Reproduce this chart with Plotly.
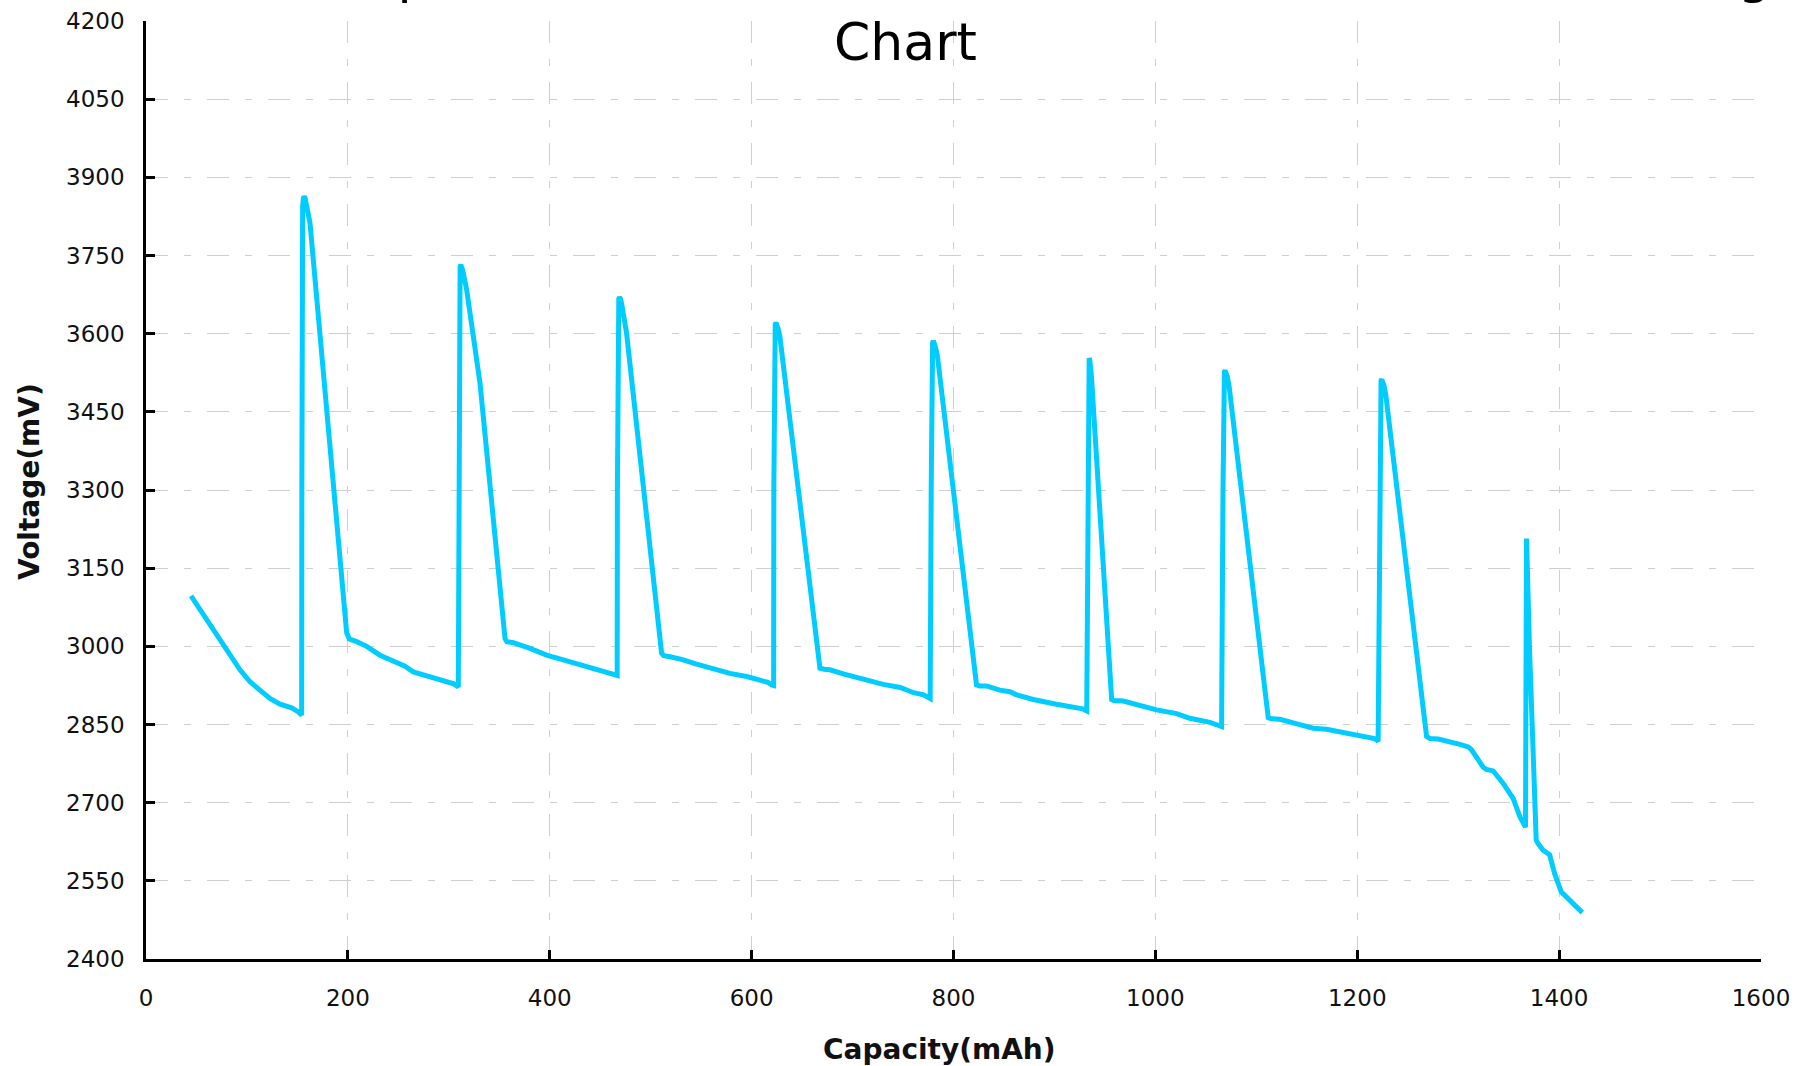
import plotly.graph_objects as go

# Capacity (mAh) and voltage (mV), one row per stretch of the curve
capacity = [
    44.6, 55.2, 63.4, 73.3, 83.2, 93.1, 103.0, 112.9, 122.8, 132.8, 144.3, 151.0, 154.2,
    154.4, 154.6, 154.8, 155.2, 155.9, 156.7, 157.6, 158.6, 160.0, 162.5, 198.8, 200.4,
    201.5, 208.7, 218.6, 231.8, 245.0, 256.6, 264.8, 281.4, 297.9, 305.0, 309.4,
    309.8, 310.0, 310.2, 310.6, 311.2, 311.9, 312.8, 313.9, 315.3, 317.7, 330.9, 350.7, 355.7,
    357.5, 363.9, 380.4, 396.9, 413.4, 429.9, 439.8, 449.1, 453.0, 459.0, 464.6, 466.8,
    467.0, 467.2, 467.4, 467.8, 468.4, 469.1, 470.0, 471.2, 473.0, 476.1, 510.8,
    513.0, 519.1, 530.6, 545.5, 562.0, 578.5, 595.0, 609.9, 616.0, 619.8, 621.8,
    622.0, 622.2, 622.4, 622.8, 623.4, 624.1, 625.0, 626.2, 628.0, 667.7,
    672.0, 677.6, 690.8, 710.6, 730.4, 747.2, 760.4, 770.3, 776.9,
    777.9, 778.1, 778.3, 778.7, 779.3, 780.0, 780.9, 782.1, 784.0, 822.8,
    826.0, 832.7, 845.9, 855.9, 862.5, 879.0, 902.0, 922.0, 928.0, 932.0,
    933.2, 933.4, 933.6, 933.9, 934.4, 935.0, 935.7, 936.6, 956.7,
    959.0, 968.2, 988.0, 1001.2, 1021.0, 1034.2, 1054.0, 1062.0, 1065.6,
    1067.0, 1067.2, 1067.4, 1067.8, 1068.4, 1069.1, 1070.0, 1071.2, 1073.0, 1111.8,
    1115.0, 1123.4, 1136.6, 1156.4, 1169.6, 1189.4, 1210.8, 1217.0, 1220.7,
    1222.2, 1222.4, 1222.6, 1223.0, 1223.6, 1224.3, 1225.2, 1226.4, 1228.2, 1268.7,
    1272.0, 1280.2, 1301.7, 1310.0, 1313.0, 1318.2, 1324.8, 1328.0, 1334.7, 1344.6, 1354.5, 1361.1, 1366.7,
    1367.3, 1367.5, 1367.7, 1370.7, 1377.3, 1379.0, 1384.0, 1390.6, 1395.5, 1402.1, 1410.4, 1423.0,
]
voltage = [
    3097, 3066, 3041, 3012, 2981, 2955, 2932, 2915, 2900, 2889, 2882, 2874, 2868,
    3300, 3760, 3820, 3845, 3860, 3863, 3860, 3852, 3838, 3812, 3026, 3018,
    3014, 3009, 3000, 2983, 2972, 2962, 2951, 2942, 2933, 2928, 2922,
    3300, 3630, 3690, 3715, 3729, 3732, 3729, 3721, 3707, 3684, 3505, 3127, 3015,
    3009, 3007, 2996, 2983, 2974, 2964, 2958, 2953, 2951, 2948, 2945, 2944,
    3300, 3575, 3630, 3655, 3667, 3670, 3667, 3658, 3641, 3601, 2987,
    2982, 2980, 2975, 2966, 2957, 2948, 2942, 2935, 2931, 2926, 2925,
    3300, 3530, 3582, 3606, 3618, 3621, 3618, 3610, 3594, 2958,
    2956, 2955, 2947, 2937, 2927, 2921, 2911, 2907, 2900,
    3300, 3500, 3552, 3573, 3583, 3586, 3583, 3575, 3558, 2926,
    2924, 2924, 2916, 2913, 2907, 2898, 2889, 2883, 2880, 2876,
    3300, 3490, 3530, 3546, 3553, 3550, 3540, 3520, 2898,
    2896, 2895, 2884, 2878, 2871, 2862, 2854, 2850, 2846,
    3300, 3450, 3500, 3519, 3527, 3529, 3526, 3518, 3500, 2863,
    2861, 2860, 2853, 2843, 2841, 2833, 2826, 2823, 2818,
    3300, 3440, 3487, 3503, 3510, 3512, 3509, 3501, 3484, 2827,
    2823, 2822, 2812, 2807, 2802, 2788, 2768, 2764, 2761, 2737, 2708, 2673, 2653,
    3000, 3150, 3207, 2993, 2628, 2622, 2609, 2600, 2564, 2529, 2513, 2489,
]

x_ticks = [0, 200, 400, 600, 800, 1000, 1200, 1400, 1600]
y_ticks = [2400, 2550, 2700, 2850, 3000, 3150, 3300, 3450, 3600, 3750, 3900, 4050, 4200]

title_line1 = "Lithium Cell Step Current Intermittent Load Mode Test Final Discharge"
title_line2 = "Chart"
x_title = "Capacity(mAh)"
y_title = "Voltage(mV)"

FONT = "DejaVu Sans"
TXT = "#111111"
GRID = "#cfcfcf"
DASH = "22px,16px,7px,16px"

W, H = 1798, 1066
L, T = 146, 21
PW, PH = 1615, 938

fig = go.Figure()
fig.add_trace(go.Scatter(
    x=capacity, y=voltage, mode="lines",
    line=dict(color="#00CCFF", width=5),
    showlegend=False, hoverinfo="x+y",
))

fig.update_layout(
    width=W, height=H,
    paper_bgcolor="white", plot_bgcolor="white",
    margin=dict(l=L, r=W - L - PW, t=T, b=H - T - PH, autoexpand=False),
    font=dict(family=FONT, color=TXT, size=23),
    showlegend=False,
)

common = dict(
    showline=True, linecolor="black", linewidth=2.5, mirror=False,
    ticks="inside", ticklen=9, tickwidth=2.5, tickcolor="black",
    showgrid=True, gridcolor=GRID, gridwidth=1.2, griddash=DASH,
    zeroline=False, tickfont=dict(size=23, family=FONT, color=TXT),
    automargin=False,
)
fig.update_xaxes(range=[0, 1600], tickvals=x_ticks, ticktext=[str(v) for v in x_ticks],
                 ticklabelstandoff=17, **common)
fig.update_yaxes(range=[2400, 4200], tickvals=y_ticks, ticktext=[str(v) for v in y_ticks],
                 ticklabelstandoff=14, **common)

# axis titles placed as annotations (page px converted to paper coords)
fig.add_annotation(
    text="<b>" + x_title + "</b>", xref="paper", yref="paper",
    x=(939 - L) / PW, y=1 - (1049 - T) / PH,
    xanchor="center", yanchor="middle", showarrow=False,
    font=dict(size=28, family=FONT, color=TXT),
)
fig.add_annotation(
    text="<b>" + y_title + "</b>", xref="paper", yref="paper",
    x=(29 - L) / PW, y=1 - (482 - T) / PH, textangle=-90,
    xanchor="center", yanchor="middle", showarrow=False,
    font=dict(size=28, family=FONT, color=TXT),
)

# two-line title: the first line runs off the top edge, as in the reference
fig.add_annotation(
    text=title_line1, xref="paper", yref="paper",
    x=(895 - L) / PW, y=1 - (6.4 - T) / PH,
    xanchor="center", yanchor="bottom", showarrow=False,
    font=dict(size=52, family=FONT, color="black"),
)
fig.add_annotation(
    text=title_line2, xref="paper", yref="paper",
    x=(905 - L) / PW, y=1 - (74 - T) / PH,
    xanchor="center", yanchor="bottom", showarrow=False,
    font=dict(size=52, family=FONT, color="black"),
)

fig.write_html(
    "out.html",
    config={"displayModeBar": False},
    post_script="document.body.style.margin='0';",
)
